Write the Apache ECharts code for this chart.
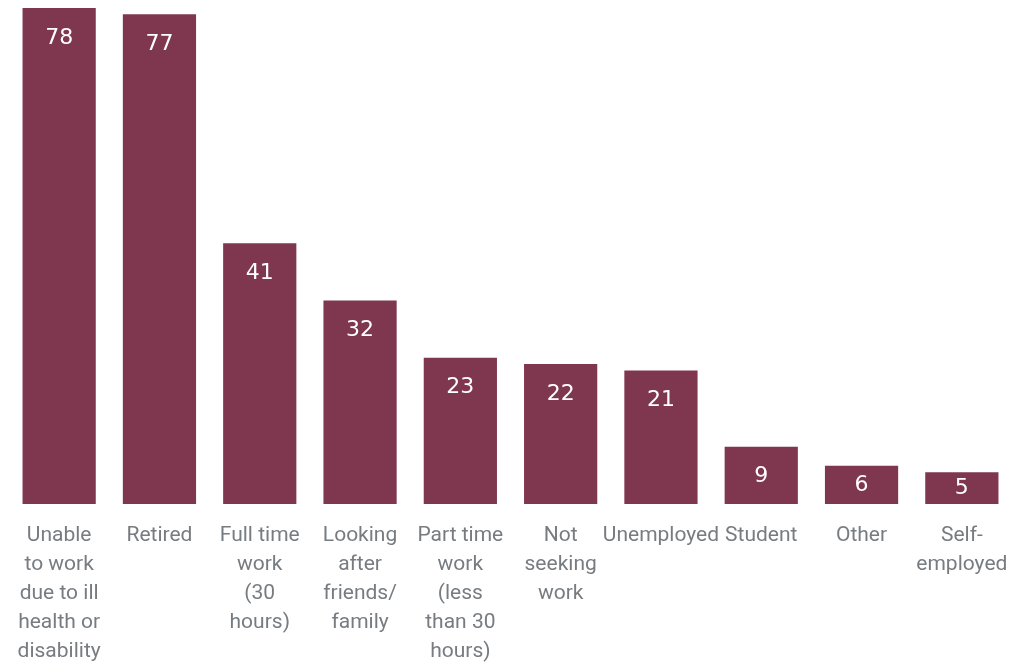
<!DOCTYPE html>
<html>
<head>
<meta charset="utf-8">
<script src="https://cdn.jsdelivr.net/npm/echarts@6/dist/echarts.min.js"></script>
<style>
  html, body { margin: 0; padding: 0; background: #ffffff; }
  #chart { width: 1033px; height: 664px; }
</style>
</head>
<body>
<div id="chart"></div>
<script>
// Employment status categories (line breaks as shown under each bar)
const categories = [
  'Unable\nto work\ndue to ill\nhealth or\ndisability',
  'Retired',
  'Full time\nwork\n(30\nhours)',
  'Looking\nafter\nfriends/\nfamily',
  'Part time\nwork\n(less\nthan 30\nhours)',
  'Not\nseeking\nwork',
  'Unemployed',
  'Student',
  'Other',
  'Self-\nemployed'
];

// Count for each category
const values = [78, 77, 41, 32, 23, 22, 21, 9, 6, 5];

// Short bars get their value label centred inside the bar
const barData = values.map(v => v < 8
  ? { value: v, label: { position: 'inside', distance: 0 } }
  : v);

const chart = echarts.init(document.getElementById('chart'));
chart.setOption({
  animation: false,
  grid: {
    left: 9, right: 21, top: 8, bottom: 160,
    containLabel: false,
    outerBoundsMode: 'none'
  },
  xAxis: {
    type: 'category',
    data: categories,
    axisLine: { show: false },
    axisTick: { show: false },
    axisLabel: {
      interval: 0,
      margin: 17,
      color: '#777c81',
      fontFamily: 'Roboto, Liberation Sans, sans-serif',
      fontSize: 21,
      lineHeight: 29,
      align: 'center',
      verticalAlign: 'top'
    }
  },
  yAxis: {
    type: 'value',
    min: 0,
    max: 78,
    show: false,
    splitLine: { show: false }
  },
  series: [{
    type: 'bar',
    data: barData,
    barCategoryGap: '27%',
    itemStyle: { color: '#7f364f' },
    label: {
      show: true,
      position: 'insideTop',
      distance: 19,
      color: '#ffffff',
      fontFamily: 'DejaVu Sans, Verdana, sans-serif',
      fontSize: 22
    }
  }]
});
</script>
</body>
</html>
